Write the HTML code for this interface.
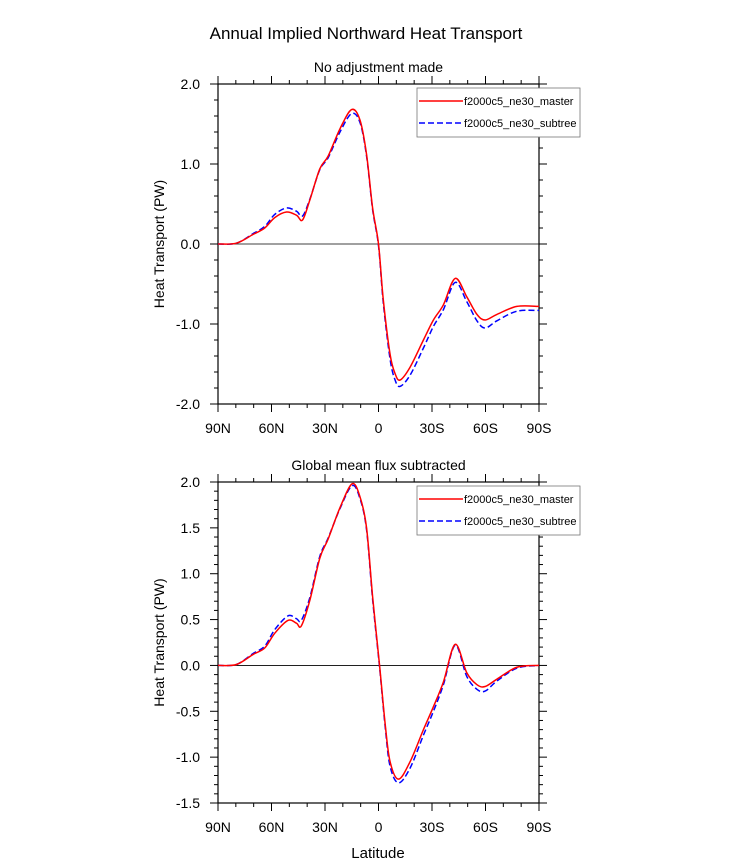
<!DOCTYPE html>
<html><head><meta charset="utf-8"><style>
html,body{margin:0;padding:0;background:#fff;}
svg{display:block;font-family:"Liberation Sans",sans-serif;}
</style></head><body>
<svg id="fig" width="733" height="858" xmlns="http://www.w3.org/2000/svg">
<text x="366" y="39" font-size="17" text-anchor="middle">Annual Implied Northward Heat Transport</text>
<g id="p1"></g>
<g id="p2"></g>
</svg>
<script>
// latitude values (degrees, +N)
const lat1 = [90,79.7,70.3,63.8,58.2,51.6,46,42.6,38.5,32.9,28.2,21.6,15.1,10.4,6.7,3.3,0,-2.7,-6.5,-9.3,-12.1,-17.7,-25.2,-30.8,-36.4,-43,-49.5,-55.2,-59.8,-66.4,-77.6,-90];
const master1 = [0,0.01,0.12,0.2,0.33,0.4,0.36,0.3,0.55,0.94,1.1,1.44,1.68,1.55,1.12,0.45,0,-0.7,-1.38,-1.62,-1.7,-1.54,-1.2,-0.95,-0.76,-0.43,-0.66,-0.88,-0.95,-0.88,-0.78,-0.78];
const subtree1 = [0,0.01,0.13,0.22,0.37,0.45,0.41,0.35,0.56,0.93,1.08,1.4,1.63,1.52,1.1,0.43,-0.02,-0.74,-1.44,-1.7,-1.78,-1.64,-1.3,-1.03,-0.82,-0.48,-0.72,-0.96,-1.05,-0.96,-0.84,-0.83];
const lat2 = [90,79.7,70.3,63.8,58.2,50.8,46,43.3,38.5,32.9,28.2,21.6,14.8,10.4,6.7,3.3,-0.6,-3.8,-6.5,-11.2,-17.7,-25.2,-30.8,-36.4,-43,-49.5,-55.2,-59.8,-66.4,-77.6,-90];
const master2 = [0,0.01,0.12,0.19,0.35,0.49,0.46,0.43,0.71,1.17,1.38,1.72,1.98,1.84,1.5,0.75,0,-0.65,-1.05,-1.24,-1.05,-0.7,-0.45,-0.18,0.23,-0.08,-0.21,-0.23,-0.15,-0.02,0];
const subtree2 = [0,0.01,0.13,0.21,0.39,0.54,0.51,0.49,0.74,1.19,1.39,1.71,1.96,1.82,1.48,0.72,-0.02,-0.68,-1.1,-1.28,-1.12,-0.76,-0.5,-0.21,0.22,-0.12,-0.26,-0.28,-0.17,-0.03,0];
const xTickLabels = ["90N","60N","30N","0","30S","60S","90S"];
const yTicks1 = ["2.0","1.0","0.0","-1.0","-2.0"];
const yTicks2 = ["2.0","1.5","1.0","0.5","0.0","-0.5","-1.0","-1.5","-2.0"];
const NS="http://www.w3.org/2000/svg";
function mk(parent,tag,attrs){const e=document.createElementNS(NS,tag);for(const k in attrs)e.setAttribute(k,attrs[k]);parent.appendChild(e);return e;}
function smooth(pts){
  let d='M'+pts[0][0]+','+pts[0][1];
  for(let i=0;i<pts.length-1;i++){
    const p0=pts[Math.max(0,i-1)],p1=pts[i],p2=pts[i+1],p3=pts[Math.min(pts.length-1,i+2)];
    const c1x=p1[0]+(p2[0]-p0[0])/6,c1y=p1[1]+(p2[1]-p0[1])/6;
    const c2x=p2[0]-(p3[0]-p1[0])/6,c2y=p2[1]-(p3[1]-p1[1])/6;
    d+=' C'+c1x+','+c1y+' '+c2x+','+c2y+' '+p2[0]+','+p2[1];
  }
  return d;
}
function panel(g,cfg){
  const L=218,R=539,T=cfg.top,B=cfg.bottom;
  const xs=v=>L+(90-v)/180*(R-L);
  const ys=v=>T+(cfg.ymax-v)/(cfg.ymax-cfg.ymin)*(B-T);
  let t=mk(g,'text',{x:(L+R)/2,y:T-12,'font-size':14,'text-anchor':'middle'});t.textContent=cfg.title;
  
  
  mk(g,'line',{x1:L,x2:R,y1:ys(0),y2:ys(0),stroke:'#000','stroke-width':0.8});
  for(let v=90;v>=-90;v-=10){const maj=v%30===0;const x=xs(v);const len=maj?8:4;
    mk(g,'line',{x1:x,x2:x,y1:B,y2:B+len,stroke:'#000','stroke-width':1});
    mk(g,'line',{x1:x,x2:x,y1:T,y2:T-len,stroke:'#000','stroke-width':1});}
  xTickLabels.forEach((s,i)=>{const v=90-i*30;const e=mk(g,'text',{x:xs(v),y:B+29,'font-size':14,'text-anchor':'middle'});e.textContent=s;
    
    });
  const n=Math.round((cfg.ymax-cfg.ymin)/cfg.minor);
  for(let i=0;i<=n;i++){const v=cfg.ymax-i*cfg.minor;const y=ys(v);const maj=i%cfg.per===0;const len=maj?8:4;
    mk(g,'line',{x1:L-len,x2:L,y1:y,y2:y,stroke:'#000','stroke-width':1});
    mk(g,'line',{x1:R,x2:R+len,y1:y,y2:y,stroke:'#000','stroke-width':1});}
  cfg.labels.forEach((s,i)=>{const v=cfg.ymax-i*cfg.minor*cfg.per;if(v<cfg.ymin-1e-9)return;const e=mk(g,'text',{x:200,y:ys(v)+5,'font-size':14,'text-anchor':'end'});e.textContent=s;
    
    });
  mk(g,'rect',{x:L,y:T,width:R-L,height:B-T,fill:'none',stroke:'#000','stroke-width':1.2});
  const yt=mk(g,'text',{x:0,y:0,'font-size':14,'text-anchor':'middle',transform:`translate(164,${(T+B)/2}) rotate(-90)`});yt.textContent='Heat Transport (PW)';
  
  
  const line=(lat,vals,col,dash,name)=>{const p=mk(g,'path',{d:smooth(lat.map((la,i)=>[xs(la),ys(vals[i])])),fill:'none',stroke:col,'stroke-width':1.5,'stroke-linejoin':'round'});
    if(dash)p.setAttribute('stroke-dasharray','6,3');
    
    };
  line(cfg.lat,cfg.sub,'#0000ff',true,'series-subtree');
  line(cfg.lat,cfg.mas,'#ff0000',false,'series-master');
  const lg=mk(g,'g',{});
  
  
  const ly=cfg.top+4;
  mk(lg,'rect',{x:417,y:ly,width:163,height:49,fill:'#fff',stroke:'#777','stroke-width':0.8});
  mk(lg,'line',{x1:419,x2:463,y1:ly+13,y2:ly+13,stroke:'#ff0000','stroke-width':1.5});
  mk(lg,'line',{x1:419,x2:463,y1:ly+35,y2:ly+35,stroke:'#0000ff','stroke-width':1.5,'stroke-dasharray':'6,3'});
  let a=mk(lg,'text',{x:464,y:ly+17,'font-size':11});a.textContent='f2000c5_ne30_master';
  
  
  let b=mk(lg,'text',{x:464,y:ly+39,'font-size':11});b.textContent='f2000c5_ne30_subtree';
  
  
}
panel(document.getElementById('p1'),{top:84,bottom:404,ymax:2,ymin:-2,minor:0.2,per:5,labels:yTicks1,title:'No adjustment made',lat:lat1,mas:master1,sub:subtree1});
panel(document.getElementById('p2'),{top:482,bottom:803,ymax:2,ymin:-1.5,minor:0.1,per:5,labels:yTicks2,title:'Global mean flux subtracted',lat:lat2,mas:master2,sub:subtree2});
const xl=mk(document.getElementById('p2'),'text',{x:378,y:858,'font-size':15,'text-anchor':'middle'});xl.textContent='Latitude';


</script>
</body></html>
